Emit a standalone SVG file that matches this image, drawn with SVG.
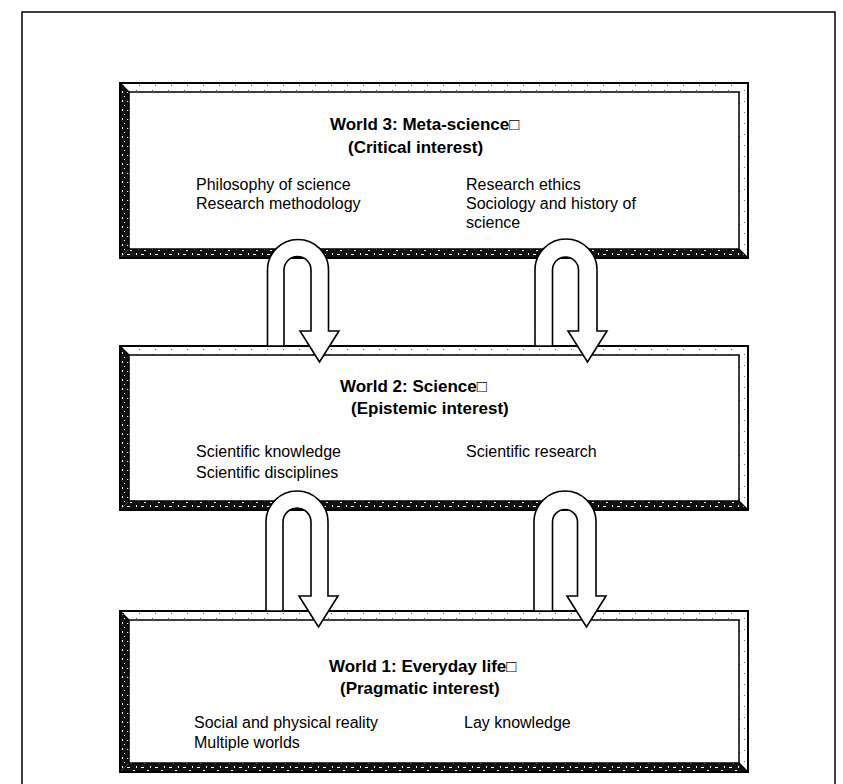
<svg xmlns="http://www.w3.org/2000/svg" width="843" height="784" viewBox="0 0 843 784">
  <defs>
    <!-- speckled dark texture for the shaded (left/bottom) bevels -->
    <pattern id="dark" width="14" height="9" patternUnits="userSpaceOnUse">
      <rect width="14" height="9" fill="#111"/>
      <rect x="1" y="2" width="3" height="1" fill="#fff"/>
      <rect x="7" y="5" width="2" height="1" fill="#fff"/>
      <rect x="10" y="1" width="1" height="2" fill="#fff"/>
      <rect x="4" y="7" width="2" height="1" fill="#fff"/>
      <rect x="12" y="6" width="1" height="1" fill="#fff"/>
    </pattern>
    <!-- sparse dots for the lit (top/right) bevels -->
    <pattern id="light" width="16" height="11" patternUnits="userSpaceOnUse">
      <rect width="16" height="11" fill="#fff"/>
      <rect x="3" y="4" width="1" height="1" fill="#333"/>
      <rect x="11" y="8" width="1" height="1" fill="#555"/>
      <rect x="8" y="2" width="1" height="1" fill="#666"/>
    </pattern>
  </defs>
  <style>
    .frame { fill: none; stroke: #000; stroke-width: 1.5; }
    .edge { fill: none; stroke: #000; stroke-width: 2; }
    .inner { fill: none; stroke: #000; stroke-width: 1.5; }
    .lit { fill: url(#light); }
    .shade { fill: url(#dark); }
    .miter { stroke: #000; stroke-width: 1.2; }
    .title { font-family: "Liberation Sans", Arial, sans-serif; font-size: 17px; font-weight: bold; fill: #000; }
    .item { font-family: "Liberation Sans", Arial, sans-serif; font-size: 16px; fill: #000; }
    .arrow { fill: #fff; stroke: #000; stroke-width: 1.6; stroke-linejoin: miter; }
  </style>

  <rect width="843" height="784" fill="#fff"/>

  <!-- outer page frame, open at the bottom -->
  <path class="frame" d="M22,784 V12 H835 V784"/>

  <!-- World 3 -->
  <g id="world3">
    <polygon class="lit" points="120,83 748,83 739,92 129,92"/>
    <polygon class="lit" points="748,83 748,258 739,249 739,92"/>
    <polygon class="shade" points="120,258 748,258 739,249 129,249"/>
    <polygon class="shade" points="120,83 129,92 129,249 120,258"/>
    <rect class="edge" x="120" y="83" width="628" height="175"/>
    <rect class="inner" x="129" y="92" width="610" height="157"/>
    <line class="miter" x1="120" y1="83" x2="129" y2="92"/>
    <line class="miter" x1="748" y1="258" x2="739" y2="249"/>
    <text class="title" x="330" y="130">World 3: Meta-science□</text>
    <text class="title" x="348" y="153">(Critical interest)</text>
    <text class="item" x="196" y="190">Philosophy of science</text>
    <text class="item" x="196" y="209">Research methodology</text>
    <text class="item" x="466" y="190">Research ethics</text>
    <text class="item" x="466" y="209">Sociology and history of</text>
    <text class="item" x="466" y="228">science</text>
  </g>

  <!-- World 2 -->
  <g id="world2">
    <polygon class="lit" points="120,346 748,346 739,355 129,355"/>
    <polygon class="lit" points="748,346 748,510 739,501 739,355"/>
    <polygon class="shade" points="120,510 748,510 739,501 129,501"/>
    <polygon class="shade" points="120,346 129,355 129,501 120,510"/>
    <rect class="edge" x="120" y="346" width="628" height="164"/>
    <rect class="inner" x="129" y="355" width="610" height="146"/>
    <line class="miter" x1="120" y1="346" x2="129" y2="355"/>
    <line class="miter" x1="748" y1="510" x2="739" y2="501"/>
    <text class="title" x="340" y="392">World 2: Science□</text>
    <text class="title" x="351" y="414">(Epistemic interest)</text>
    <text class="item" x="196" y="457">Scientific knowledge</text>
    <text class="item" x="196" y="478">Scientific disciplines</text>
    <text class="item" x="466" y="457">Scientific research</text>
  </g>

  <!-- World 1 -->
  <g id="world1">
    <polygon class="lit" points="120,611 748,611 739,620 129,620"/>
    <polygon class="lit" points="748,611 748,772 739,763 739,620"/>
    <polygon class="shade" points="120,772 748,772 739,763 129,763"/>
    <polygon class="shade" points="120,611 129,620 129,763 120,772"/>
    <rect class="edge" x="120" y="611" width="628" height="161"/>
    <rect class="inner" x="129" y="620" width="610" height="143"/>
    <line class="miter" x1="120" y1="611" x2="129" y2="620"/>
    <line class="miter" x1="748" y1="772" x2="739" y2="763"/>
    <text class="title" x="329" y="672">World 1: Everyday life□</text>
    <text class="title" x="340" y="694">(Pragmatic interest)</text>
    <text class="item" x="194" y="728">Social and physical reality</text>
    <text class="item" x="194" y="748">Multiple worlds</text>
    <text class="item" x="464" y="728">Lay knowledge</text>
  </g>

  <!-- U-turn arrows between the worlds -->
  <g id="connectors">
    <path class="arrow" d="M267.5,346 V270 A30.5,30.5 0 0 1 328.5,270 V331 H339 L319.5,362 L300,331 H311 V270 A13.5,13.5 0 0 0 284,270 V346 Z"/>
    <path class="arrow" d="M535,346 V270 A31,31 0 0 1 597,270 V331 H607 L587.5,362 L568,331 H578.5 V270 A13,13 0 0 0 552.5,270 V346 Z"/>
    <path class="arrow" d="M266,611 V522 A31,31 0 0 1 328,522 V596 H338 L318.5,627 L299,596 H311 V522 A14,14 0 0 0 283,522 V611 Z"/>
    <path class="arrow" d="M534,611 V522 A31,31 0 0 1 596,522 V596 H606 L586.5,627 L567,596 H577.5 V522 A12.5,12.5 0 0 0 552.5,522 V611 Z"/>
  </g>
</svg>
